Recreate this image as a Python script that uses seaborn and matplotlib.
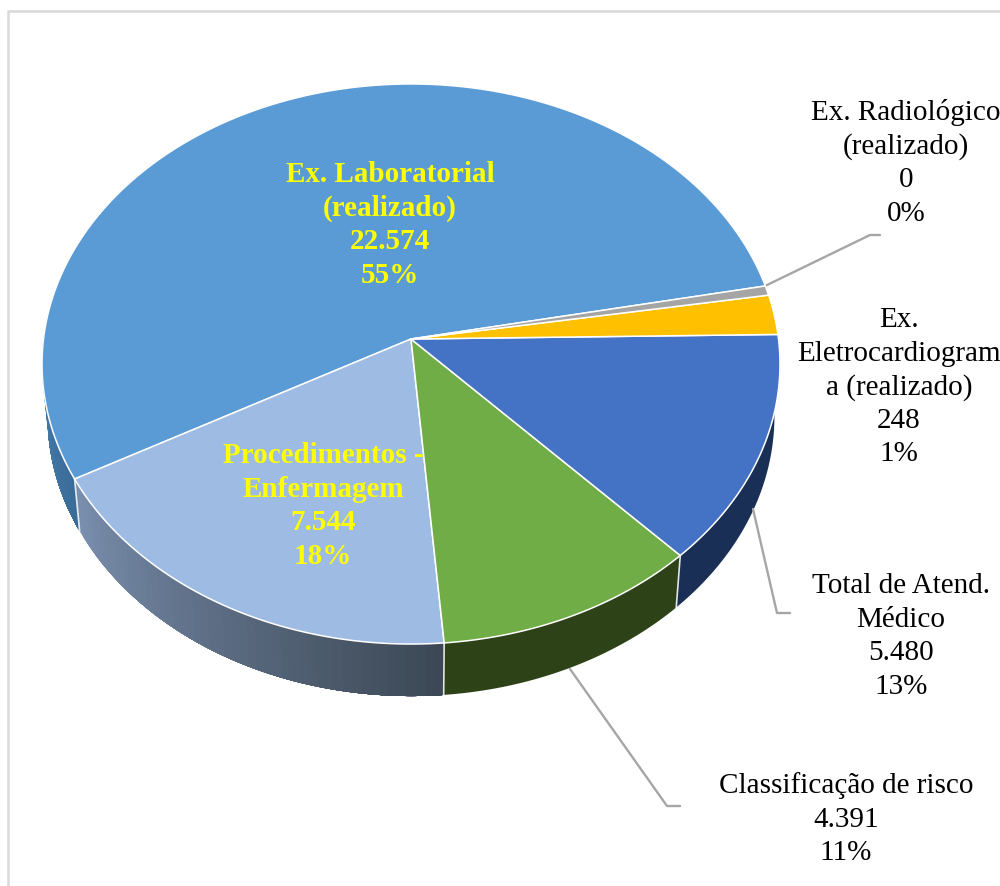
import numpy as np
import seaborn as sns
from matplotlib import pyplot as plt

# Slice shares as they appear in the drawing (%), labels keep the printed numbers
names = ['Ex. Laboratorial\n(realizado)', 'Procedimentos -\nEnfermagem', 'Classificação de risco',
         'Total de Atend.\nMédico', 'Ex.\nEletrocardiogram\na (realizado)', 'Ex. Radiológico\n(realizado)']
counts = ['22.574', '7.544', '4.391', '5.480', '248', '0']
percents = ['55%', '18%', '11%', '13%', '1%', '0%']
shares = [54.9, 18.3, 10.7, 13.25, 2.3, 0.55]
top_colors = ['#5b9bd5', '#9dbbe3', '#70ad47', '#4472c4', '#ffc000', '#a5a5a5']
wall_left = ['#4a82b3', '#7a8fae', '#2e4218', '#1a2f55', '#997300', '#636363']
wall_right = ['#3a6c98', '#3c4855', '#2e4218', '#1a2f55', '#997300', '#636363']
start_angle = 11.2

# label anchor (centre x, first baseline y) and colour per slice
label_x = [390, 323, 846, 901, 899, 906]
label_y = [182, 463, 793, 593, 327, 120]
label_color = ['#ffff00', '#ffff00', 'black', 'black', 'black', 'black']
label_bold = [True, True, False, False, False, False]

# leader lines for the outside labels
leaders = [([570, 667, 680], [670, 807, 807]),
           ([753, 777, 790], [510, 614, 614]),
           ([765, 870, 880], [287, 236, 236])]

# perspective of the pie disc, in pixels
apex_x, apex_y = 411, 340
rad_x, rad_y, persp = 367.5, 277.8, 0.0893
depth, shrink = 52, 0.985


def rim(theta, down=0.0, scale=1.0):
    w = 1 + persp * np.sin(theta)
    x = apex_x + scale * rad_x * np.cos(theta) / w
    y = apex_y - rad_y * np.sin(theta) / w + down
    return x, y


sns.set_style('white')
plt.rcParams['font.family'] = ['Liberation Serif', 'DejaVu Serif']

fig, ax = plt.subplots(figsize=(10, 8.87), dpi=100)
ax.set_position([0, 0, 1, 1])
ax.set_xlim(0, 1000)
ax.set_ylim(887, 0)
ax.axis('off')

# chart frame
ax.plot([8.3, 8.3, 1000], [887, 12, 12], color='#d9d9d9', lw=1.8)

edges = np.radians(start_angle + np.concatenate([[0], np.cumsum(shares) * 3.6]))

# side walls, each strip runs to the slice end so no seams show
vis_from, vis_to = np.radians(176), np.radians(366)
for i in range(len(shares)):
    a0, a1 = max(edges[i], vis_from), min(edges[i + 1], vis_to)
    if a1 <= a0:
        continue
    n_strips = 50 if wall_left[i] != wall_right[i] else 1
    cols = sns.blend_palette([wall_left[i], wall_right[i]], max(n_strips, 2))
    steps = np.linspace(a0, a1, n_strips + 1)
    for j in range(n_strips):
        t = np.linspace(steps[j], a1, 120)
        x0, y0 = rim(t)
        x1, y1 = rim(t, depth, shrink)
        ax.fill(np.r_[x0, x1[::-1]], np.r_[y0, y1[::-1]], color=cols[j], lw=0, zorder=2)

# white seams on the walls
for e in edges:
    if vis_from < e < vis_to:
        x0, y0 = rim(e)
        x1, y1 = rim(e, depth, shrink)
        ax.plot([x0, x1], [y0, y1], color='white', lw=1.2, alpha=0.85, zorder=3)

# top faces
for i in range(len(shares)):
    t = np.linspace(edges[i], edges[i + 1], 200)
    x, y = rim(t)
    ax.fill(np.r_[apex_x, x], np.r_[apex_y, y], facecolor=top_colors[i],
            edgecolor='white', lw=1.1, joinstyle='round', zorder=4)

for lx, ly in leaders:
    ax.plot(lx, ly, color='#a6a6a6', lw=1.7, zorder=3)

# data labels, one line at a time
line_gap = 33.6
for i in range(len(names)):
    lines = names[i].split('\n') + [counts[i], percents[i]]
    for k, line in enumerate(lines):
        ax.text(label_x[i], label_y[i] + k * line_gap, line, ha='center', va='baseline',
                fontsize=21, color=label_color[i],
                fontweight='bold' if label_bold[i] else 'normal', zorder=5)

fig.savefig('out.png', dpi=100)
